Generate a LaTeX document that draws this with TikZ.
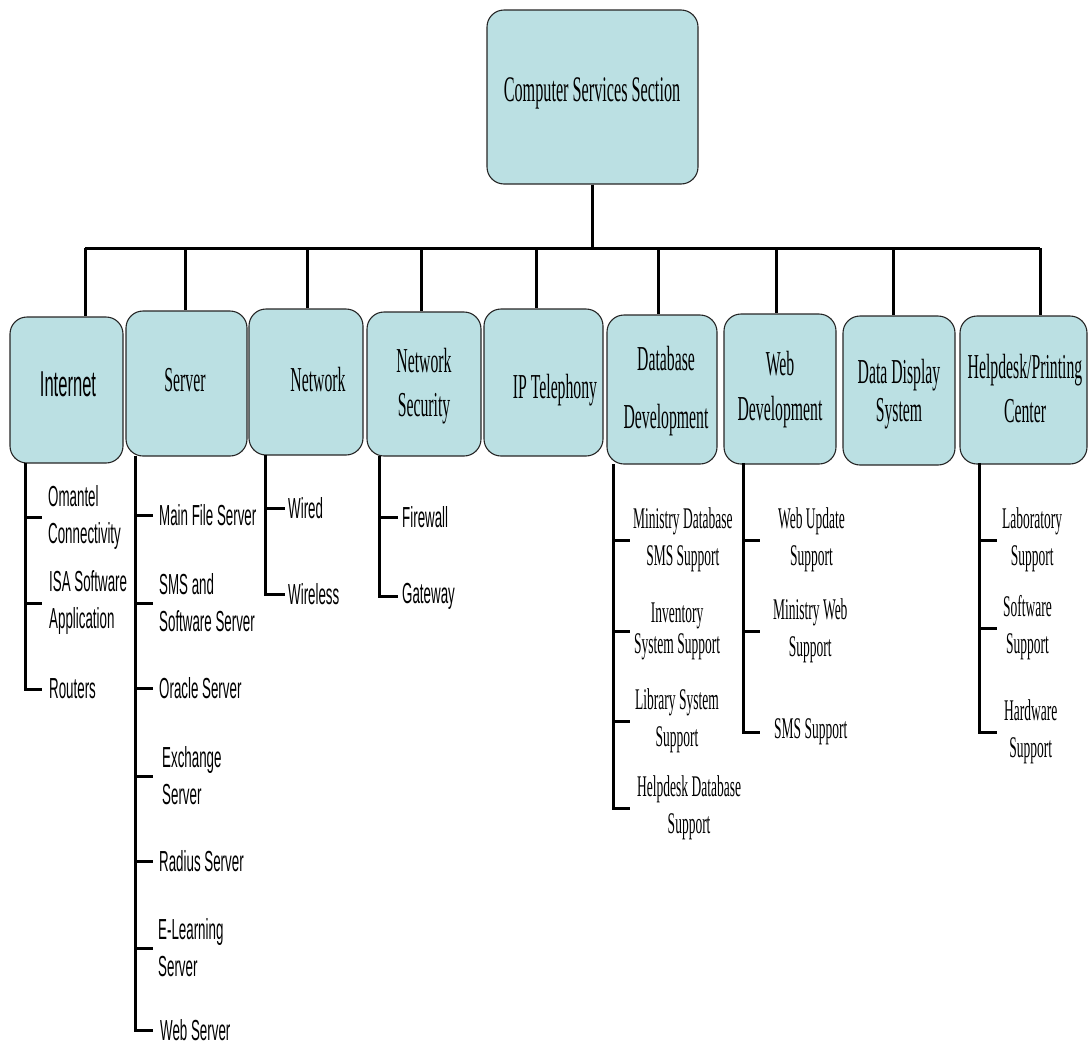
\documentclass[tikz,border=0pt]{standalone}
\usepackage{fontspec}
% narrow versions of Times/Arial-metric faces
\newfontfamily\condserif[FakeStretch=0.45]{Liberation Serif}
\newfontfamily\condsans[FakeStretch=0.46]{Liberation Sans}
\definecolor{boxfill}{RGB}{187,224,227}
\begin{document}
\begin{tikzpicture}[x=1pt,y=-1pt,
  unit/.style={draw=black!85, line width=1.1pt, fill=boxfill, rounded corners=17pt, inner sep=0pt},
  boxtext/.style={font=\condserif\fontsize{35}{44}\selectfont, align=center, inner sep=0pt},
  boxsans/.style={font=\condsans\fontsize{36}{44}\selectfont, align=center, inner sep=0pt},
  wire/.style={line width=3pt, black},
  item/.style={font=\condsans\fontsize{29}{37}\selectfont, align=left, anchor=west, inner ysep=0pt},
  itemserif/.style={font=\condserif\fontsize{30}{37}\selectfont, align=center, anchor=west, inner ysep=0pt}]
\useasboundingbox (0,0) rectangle (1088,1047);

% ---- unit boxes ----
\node[unit, minimum width=211pt, minimum height=174pt] (top)  at (592.5,97) {};
\node[unit, minimum width=113pt, minimum height=146pt] (inet) at (66.5,390) {};
\node[unit, minimum width=121pt, minimum height=145pt] (srv)  at (186.5,383.5) {};
\node[unit, minimum width=114pt, minimum height=146pt] (net)  at (306,382) {};
\node[unit, minimum width=114pt, minimum height=144pt] (nsec) at (424,384) {};
\node[unit, minimum width=119pt, minimum height=147pt] (ipt)  at (543.5,382.5) {};
\node[unit, minimum width=110pt, minimum height=149pt] (dbd)  at (662,389.5) {};
\node[unit, minimum width=112pt, minimum height=150pt] (webd) at (780,389) {};
\node[unit, minimum width=112pt, minimum height=149pt] (dds)  at (899,390.5) {};
\node[unit, minimum width=127pt, minimum height=148pt] (hlp)  at (1023.5,390) {};

% ---- box captions ----
\node[boxtext, font=\condserif\fontsize{36}{44}\selectfont] (topT) at (592,93) {Computer Services Section};
\node[boxsans] (inetT) at (68,384) {Internet};
\node[boxtext] (srvT)  at (185,380) {Server};
\node[boxtext] (netT)  at (318,380) {Network};
\node[boxtext] (nsecT) at (424,386) {Network\\Security};
\node[boxtext] (iptT)  at (555,390) {IP Telephony};
\node[boxtext] (dbdT)  at (666,391) {Database\\[14pt]Development};
\node[boxtext] (webdT) at (780,390) {Web\\[1pt]Development};
\node[boxtext] (ddsT)  at (899,394) {Data Display\\[-6pt]System};
\node[boxtext] (hlpT)  at (1025,389) {Helpdesk/Printing\\Center};

% ---- bus from the section to the units ----
\coordinate (b1) at (85,248);
\coordinate (b2) at (185,248);
\coordinate (b3) at (307,248);
\coordinate (b4) at (421,248);
\coordinate (b5) at (536,248);
\coordinate (b6) at (658,248);
\coordinate (b7) at (776,248);
\coordinate (b8) at (893,248);
\coordinate (b9) at (1040,248);
\draw[wire] (top.south) |- (b1);
\draw[wire] (top.south) |- (b9);
\draw[wire] (b1) -- (b1 |- inet.north);
\draw[wire] (b2) -- (b2 |- srv.north);
\draw[wire] (b3) -- (b3 |- net.north);
\draw[wire] (b4) -- (b4 |- nsec.north);
\draw[wire] (b5) -- (b5 |- ipt.north);
\draw[wire] (b6) -- (b6 |- dbd.north);
\draw[wire] (b7) -- (b7 |- webd.north);
\draw[wire] (b8) -- (b8 |- dds.north);
\draw[wire] (b9) -- (b9 |- hlp.north);

% ---- Internet ----
\coordinate (ti) at (25,463);
\node[item, inner xsep=6pt] (i1) at (42,517) {Omantel\\Connectivity};
\node[item, inner xsep=7pt] (i2) at (42,603) {ISA Software\\Application};
\node[item, inner xsep=7pt] (i3) at (42,689) {Routers};
\draw[wire] (ti) |- (i3.west);
\foreach \n in {i1,i2} \draw[wire] (\n.west -| ti) -- (\n.west);

% ---- Server ----
\coordinate (ts) at (135,456);
\node[item, inner xsep=6pt] (s1) at (153,515) {Main File Server};
\node[item, inner xsep=6pt] (s2) at (153,603) {SMS and\\Software Server};
\node[item, inner xsep=6pt] (s3) at (153,688) {Oracle Server};
\node[item, inner xsep=9pt] (s4) at (153,776) {Exchange\\Server};
\node[item, inner xsep=6pt] (s5) at (153,861) {Radius Server};
\node[item, inner xsep=5pt] (s6) at (153,948) {E-Learning\\Server};
\node[item, inner xsep=7pt] (s7) at (153,1030) {Web Server};
\draw[wire] (ts) |- (s7.west);
\foreach \n in {s1,s2,s3,s4,s5,s6} \draw[wire] (\n.west -| ts) -- (\n.west);

% ---- Network ----
\coordinate (tn) at (265,455);
\node[item, inner xsep=3pt] (n1) at (285,508) {Wired};
\node[item, inner xsep=3pt] (n2) at (285,594) {Wireless};
\draw[wire] (tn) |- (n2.west);
\draw[wire] (n1.west -| tn) -- (n1.west);

% ---- Network Security ----
\coordinate (tf) at (379,456);
\node[item, inner xsep=4pt] (f1) at (398,517) {Firewall};
\node[item, inner xsep=4pt] (f2) at (398,596) {Gateway};
\draw[wire] (tf) |- (f2.west);
\draw[wire] (f1.west -| tf) -- (f1.west);

% ---- Database Development ----
\coordinate (td) at (613,464);
\node[itemserif, inner xsep=3pt] (d1) at (630,540) {Ministry Database\\SMS Support};
\node[itemserif, inner xsep=4pt] (d2) at (630,631) {Inventory\\[-6pt]System Support};
\node[itemserif, inner xsep=5pt] (d3) at (630,721) {Library System\\Support};
\node[itemserif, inner xsep=7pt] (d4) at (630,808) {Helpdesk Database\\Support};
\draw[wire] (td) |- (d4.west);
\foreach \n in {d1,d2,d3} \draw[wire] (\n.west -| td) -- (\n.west);

% ---- Web Development ----
\coordinate (tw) at (743,463);
\node[itemserif, inner xsep=18pt] (w1) at (760,540) {Web Update\\Support};
\node[itemserif, inner xsep=13pt] (w2) at (760,631) {Ministry Web\\Support};
\node[itemserif, inner xsep=14pt] (w3) at (760,732) {SMS Support};
\draw[wire] (tw) |- (w3.west);
\foreach \n in {w1,w2} \draw[wire] (\n.west -| tw) -- (\n.west);

% ---- Helpdesk/Printing Center ----
\coordinate (th) at (979,463);
\node[itemserif, inner xsep=5pt] (h1) at (997,540) {Laboratory\\Support};
\node[itemserif, inner xsep=6pt] (h2) at (997,628) {Software\\Support};
\node[itemserif, inner xsep=7pt] (h3) at (997,732) {Hardware\\Support};
\draw[wire] (th) |- (h3.west);
\foreach \n in {h1,h2} \draw[wire] (\n.west -| th) -- (\n.west);
\end{tikzpicture}
\end{document}
